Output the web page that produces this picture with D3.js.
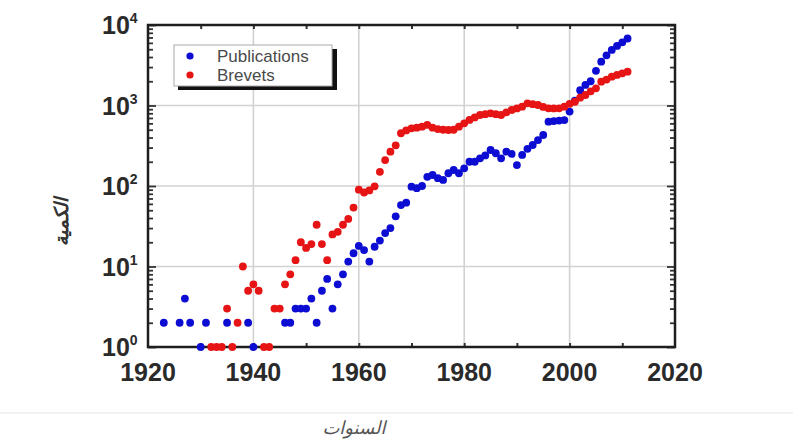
<!DOCTYPE html>
<html lang="en">
<head>
  <meta charset="UTF-8">
  <title>Publications et Brevets</title>
  <script src="https://d3js.org/d3.v7.min.js"></script>
  <style>
    body { margin: 0; background: #fff; }
  </style>
</head>
<body>
  <svg width="793" height="441"></svg>

  <script>
    // data
    const pubYears = [1923, 1926, 1927, 1928, 1930, 1931, 1935, 1939, 1940,
      1946, 1947, 1948, 1949, 1950, 1951, 1952, 1953, 1954, 1955, 1956, 1957, 1958, 1959,
      1960, 1961, 1962, 1963, 1964, 1965, 1966, 1967, 1968, 1969,
      1970, 1971, 1972, 1973, 1974, 1975, 1976, 1977, 1978, 1979,
      1980, 1981, 1982, 1983, 1984, 1985, 1986, 1987, 1988, 1989,
      1990, 1991, 1992, 1993, 1994, 1995, 1996, 1997, 1998, 1999,
      2000, 2001, 2002, 2003, 2004, 2005, 2006, 2007, 2008, 2009, 2010, 2011];
    const pubCounts = [2, 2, 4, 2, 1, 2, 2, 2, 1,
      2, 2, 3, 3, 3, 4, 2, 5, 7, 3, 6, 8, 11.5, 14.6,
      18, 16, 11.5, 17.6, 21, 26, 30, 42, 58, 62,
      98, 94, 100, 130, 137, 125, 119, 144, 158, 144,
      166, 200, 200, 221, 240, 280, 255, 221, 267, 250,
      182, 243, 290, 323, 372, 430, 630, 640, 650, 660,
      840, 1150, 1550, 1800, 2000, 2700, 3500, 4200, 4900, 5500, 6100, 6800];

    const brevYears = [1932, 1933, 1934, 1935, 1936, 1937, 1938, 1939,
      1940, 1941, 1942, 1943, 1944, 1945, 1946, 1947, 1948, 1949,
      1950, 1951, 1952, 1953, 1954, 1955, 1956, 1957, 1958, 1959,
      1960, 1961, 1962, 1963, 1964, 1965, 1966, 1967, 1968, 1969,
      1970, 1971, 1972, 1973, 1974, 1975, 1976, 1977, 1978, 1979,
      1980, 1981, 1982, 1983, 1984, 1985, 1986, 1987, 1988, 1989,
      1990, 1991, 1992, 1993, 1994, 1995, 1996, 1997, 1998, 1999,
      2000, 2001, 2002, 2003, 2004, 2005, 2006, 2007, 2008, 2009, 2010, 2011];
    const brevCounts = [1, 1, 1, 3, 1, 2, 10, 5,
      6, 5, 1, 1, 3, 3, 6, 8, 12, 20,
      17, 19, 33, 19, 12, 25, 27, 33, 39, 54,
      90, 83, 88, 99, 150, 210, 267, 320, 452, 490,
      521, 530, 545, 573, 530, 510, 500, 496, 500, 545,
      600, 661, 710, 762, 780, 800, 780, 762, 820, 879,
      920, 966, 1064, 1040, 1014, 960, 923, 920, 923, 966,
      1050, 1114, 1250, 1350, 1500, 1636, 1979, 2100, 2282, 2400, 2512, 2630];

    const xTickLabels = [1920, 1940, 1960, 1980, 2000, 2020];
    const yTickExps = [0, 1, 2, 3, 4];
    const legendNames = ["Publications", "Brevets"];
    const colors = ["#0c0cd2", "#e61414"];

    const svg = d3.select("svg");
    const plotL = 148, plotR = 675, plotT = 25, plotB = 347;

    const x = d3.scaleLinear().domain([1920, 2020]).range([plotL, plotR]);
    const y = d3.scaleLog().domain([1, 10000]).range([plotB, plotT]);

    // faint separator near the bottom of the figure
    svg.append("line")
       .attr("x1", 0).attr("x2", 793).attr("y1", 413).attr("y2", 413)
       .attr("stroke", "#ececec").attr("stroke-width", 1.5);

    // grid
    svg.append("g").selectAll("line")
       .data([1940, 1960, 1980, 2000])
       .enter().append("line")
       .attr("x1", d => x(d)).attr("x2", d => x(d))
       .attr("y1", plotT).attr("y2", plotB)
       .attr("stroke", "#d2d2d2").attr("stroke-width", 1.6);
    svg.append("g").selectAll("line")
       .data([10, 100, 1000])
       .enter().append("line")
       .attr("x1", plotL).attr("x2", plotR)
       .attr("y1", d => y(d)).attr("y2", d => y(d))
       .attr("stroke", "#d2d2d2").attr("stroke-width", 1.6);

    // ticks (inside)
    const xTicks = d3.range(1930, 2020, 10);
    svg.append("g").attr("transform", "translate(0," + plotB + ")")
       .call(d3.axisBottom(x).tickValues(xTicks).tickSize(-4).tickFormat(""))
       .call(g => g.select(".domain").remove())
       .selectAll("line").attr("stroke", "#333").attr("stroke-width", 2);
    svg.append("g").attr("transform", "translate(0," + plotT + ")")
       .call(d3.axisTop(x).tickValues(xTicks).tickSize(-4).tickFormat(""))
       .call(g => g.select(".domain").remove())
       .selectAll("line").attr("stroke", "#333").attr("stroke-width", 2);

    const yTicks = [];
    for (let e = 0; e < 4; e++) {
      for (let m = 1; m < 10; m++) yTicks.push(m * Math.pow(10, e));
    }
    yTicks.push(10000);
    const isMajor = v => Math.abs(Math.log10(v) - Math.round(Math.log10(v))) < 1e-9;

    svg.append("g").attr("transform", "translate(" + plotL + ",0)")
       .call(d3.axisLeft(y).tickValues(yTicks).tickSize(-5).tickFormat(""))
       .call(g => g.select(".domain").remove())
       .selectAll("line")
       .attr("x2", d => isMajor(d) ? 8 : 5)
       .attr("stroke", "#333").attr("stroke-width", 1.8);
    svg.append("g").attr("transform", "translate(" + plotR + ",0)")
       .call(d3.axisRight(y).tickValues(yTicks).tickSize(-5).tickFormat(""))
       .call(g => g.select(".domain").remove())
       .selectAll("line")
       .attr("x2", d => isMajor(d) ? -8 : -5)
       .attr("stroke", "#333").attr("stroke-width", 1.8);

    // frame
    svg.append("rect")
       .attr("x", plotL).attr("y", plotT)
       .attr("width", plotR - plotL).attr("height", plotB - plotT)
       .attr("fill", "none").attr("stroke", "#1e1e1e").attr("stroke-width", 2.5);

    // tick labels
    svg.append("g").selectAll("text")
       .data(xTickLabels)
       .enter().append("text")
       .attr("x", d => x(d)).attr("y", 381)
       .attr("text-anchor", "middle")
       .attr("font-family", "Liberation Sans, Arial, sans-serif")
       .attr("font-weight", "bold").attr("font-size", 25)
       .attr("fill", "#2a2a2a")
       .text(d => d);

    const yl = svg.append("g").selectAll("text")
       .data(yTickExps)
       .enter().append("text")
       .attr("x", 102).attr("y", d => y(Math.pow(10, d)) + 9)
       .attr("font-family", "Liberation Sans, Arial, sans-serif")
       .attr("font-weight", "bold").attr("font-size", 25)
       .attr("fill", "#2a2a2a");
    yl.append("tspan").text("10");
    yl.append("tspan")
      .attr("dy", -11).attr("font-size", 14)
      .text(d => d);

    // points
    const series = [
      { years: pubYears, counts: pubCounts, color: colors[0] },
      { years: brevYears, counts: brevCounts, color: colors[1] }
    ];
    series.forEach(s => {
      svg.append("g").selectAll("circle")
         .data(s.years.map((yr, i) => [yr, s.counts[i]]))
         .enter().append("circle")
         .attr("cx", d => x(d[0]))
         .attr("cy", d => y(d[1]))
         .attr("r", 3.9)
         .attr("fill", s.color);
    });

    // legend with shadow
    const lg = svg.append("g").attr("transform", "translate(174,45)");
    lg.append("rect").attr("x", 4).attr("y", 4).attr("width", 159).attr("height", 41)
      .attr("fill", "#111");
    lg.append("rect").attr("x", 0).attr("y", 0).attr("width", 158).attr("height", 41)
      .attr("fill", "#fff").attr("stroke", "#aaa").attr("stroke-width", 1);
    legendNames.forEach((name, i) => {
      lg.append("circle").attr("cx", 16).attr("cy", 11 + i * 19).attr("r", 3.6)
        .attr("fill", colors[i]);
      lg.append("text").attr("x", 43).attr("y", 17 + i * 19)
        .attr("font-family", "Liberation Sans, Arial, sans-serif")
        .attr("font-size", 17).attr("fill", "#4a4a4a")
        .text(name);
    });

    // axis titles
    svg.append("text")
       .attr("transform", "translate(68,222) rotate(-90)")
       .attr("text-anchor", "middle")
       .attr("font-family", "DejaVu Sans, sans-serif")
       .attr("font-weight", "bold").attr("font-style", "italic")
       .attr("font-size", 19).attr("fill", "#333")
       .text("الكمية");
    svg.append("text")
       .attr("x", 354).attr("y", 434)
       .attr("text-anchor", "middle")
       .attr("font-family", "DejaVu Sans, sans-serif")
       .attr("font-style", "italic")
       .attr("font-size", 18).attr("fill", "#555")
       .text("السنوات");
  </script>
</body>
</html>
